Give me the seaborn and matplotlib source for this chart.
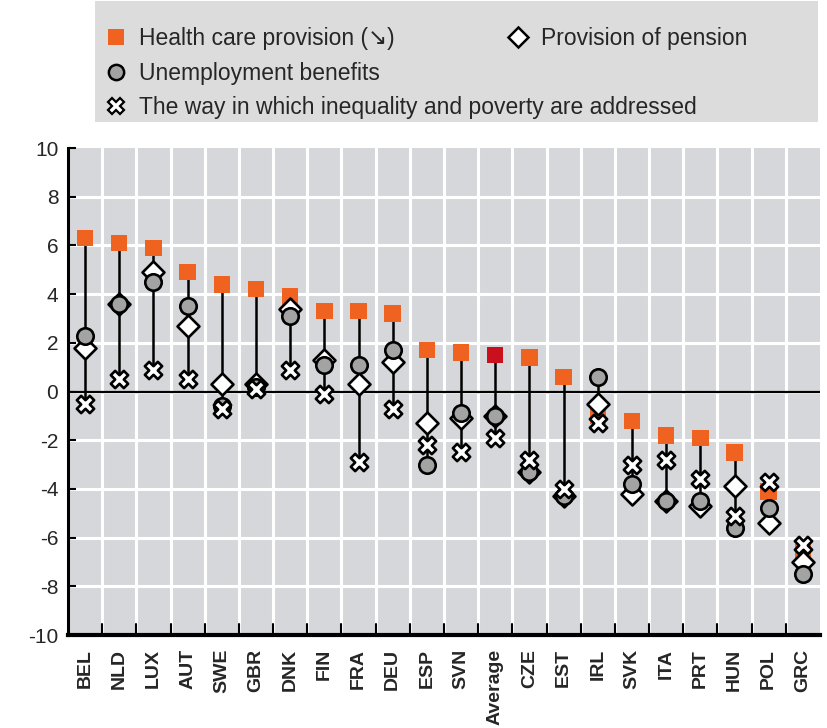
import numpy as np
import pandas as pd
import matplotlib
matplotlib.use("Agg")
import matplotlib.pyplot as plt
from matplotlib.lines import Line2D
from matplotlib.patches import Rectangle
import seaborn as sns

countries = ["BEL", "NLD", "LUX", "AUT", "SWE", "GBR", "DNK", "FIN", "FRA", "DEU", "ESP",
             "SVN", "Average", "CZE", "EST", "IRL", "SVK", "ITA", "PRT", "HUN", "POL", "GRC"]
health = [6.3, 6.1, 5.9, 4.9, 4.4, 4.2, 3.9, 3.3, 3.3, 3.2, 1.7,
          1.6, 1.5, 1.4, 0.6, -1.0, -1.2, -1.8, -1.9, -2.5, -4.1, -6.6]
pension = [1.8, 3.6, 4.9, 2.7, 0.3, 0.3, 3.4, 1.3, 0.3, 1.2, -1.3,
           -1.1, -1.0, -3.3, -4.3, -0.5, -4.2, -4.5, -4.7, -3.9, -5.4, -7.0]
unemployment = [2.3, 3.6, 4.5, 3.5, -0.6, 0.2, 3.1, 1.1, 1.1, 1.7, -3.0,
                -0.9, -1.0, -3.3, -4.3, 0.6, -3.8, -4.5, -4.5, -5.6, -4.8, -7.5]
inequality = [-0.5, 0.5, 0.9, 0.5, -0.7, 0.1, 0.9, -0.1, -2.9, -0.7, -2.2,
              -2.5, -1.9, -2.8, -4.0, -1.3, -3.0, -2.8, -3.6, -5.1, -3.7, -6.3]
yticks = [-10, -8, -6, -4, -2, 0, 2, 4, 6, 8, 10]

lab_health = "Health care provision (\u2198)"
lab_pension = "Provision of pension"
lab_unemp = "Unemployment benefits"
lab_ineq = "The way in which inequality and poverty are addressed"

df = pd.DataFrame({"country": countries, "health": health, "pension": pension,
                   "unemployment": unemployment, "inequality": inequality})
df["lo"] = df[["health", "pension", "unemployment", "inequality"]].min(axis=1)
df["hi"] = df[["health", "pension", "unemployment", "inequality"]].max(axis=1)

sns.set_theme(style="white")
fam = ["Liberation Sans", "DejaVu Sans"]
plt.rcParams["font.family"] = fam

ORANGE = "#f0621f"
RED = "#c8101e"
GREY = "#a3a3a3"
BG = "#d5d7da"

fig = plt.figure(figsize=(8.28, 7.28), dpi=100)
ax = fig.add_axes([0.0821, 0.1277, 0.9082, 0.669])
ax.set_facecolor(BG)

x = np.arange(len(countries))
# connecting lines
ax.vlines(x, df["lo"], df["hi"], color="black", lw=1.8, zorder=2)
ax.axhline(0, color="black", lw=1.6, zorder=1.5)

hcol = [RED if c == "Average" else ORANGE for c in countries]
sns.scatterplot(data=df, x="country", y="health", marker="s", s=140, color=ORANGE,
                edgecolor="none", linewidth=0, ax=ax, zorder=3)
ax.collections[-1].set_facecolor(hcol)
sns.scatterplot(data=df, x="country", y="pension", marker="D", s=125, color="white",
                edgecolor="black", linewidth=1.9, ax=ax, zorder=4)
sns.scatterplot(data=df, x="country", y="unemployment", marker="o", s=140, color=GREY,
                edgecolor="black", linewidth=1.9, ax=ax, zorder=5)
sns.scatterplot(data=df, x="country", y="inequality", marker="X", s=155, color="white",
                edgecolor="black", linewidth=1.9, ax=ax, zorder=6)

ax.set_xlim(-0.5, len(countries) - 0.5)
ax.set_ylim(-10, 10)
ax.set_yticks(yticks)
ax.set_yticklabels([str(v) for v in yticks], fontsize=15)
ax.set_xticks(x)
ax.set_xticklabels(countries, rotation=90, fontsize=14, fontweight="bold")
ax.tick_params(axis="x", length=0, pad=10)
ax.tick_params(axis="y", direction="in", length=6, width=1.5, color="black", pad=7, left=True)
ax.set_xlabel("")
ax.set_ylabel("")

# grid
for gx in np.arange(0.5, len(countries) - 0.5, 1.0):
    ax.axvline(gx, color="white", lw=2.2, zorder=0.5)
    ax.plot([gx, gx], [-10, -9.55], color="black", lw=1.5, zorder=7, clip_on=False)
for gy in yticks[1:-1]:
    ax.axhline(gy, color="white", lw=2.2, zorder=0.4)

for s in ["top", "right"]:
    ax.spines[s].set_visible(False)
ax.spines["left"].set_color("black")
ax.spines["left"].set_linewidth(2.2)
ax.spines["bottom"].set_color("black")
ax.spines["bottom"].set_linewidth(3)

# legend box
fig.patches.append(Rectangle((95 / 828, 1 - 122 / 728), (818 - 95) / 828, 121 / 728,
                             transform=fig.transFigure, facecolor="#dcdcdc", edgecolor="none", zorder=0))
h_health = Line2D([], [], marker="s", ls="none", color=ORANGE, markersize=11, markeredgewidth=0)
h_pen = Line2D([], [], marker="D", ls="none", markerfacecolor="white", markeredgecolor="black",
               markersize=10, markeredgewidth=1.8)
h_un = Line2D([], [], marker="o", ls="none", markerfacecolor=GREY, markeredgecolor="black",
              markersize=11, markeredgewidth=1.8)
h_in = Line2D([], [], marker="X", ls="none", markerfacecolor="white", markeredgecolor="black",
              markersize=12, markeredgewidth=1.6)
leg1 = fig.legend([h_health, h_un, h_in], [lab_health, lab_unemp, lab_ineq],
                  loc="upper left", bbox_to_anchor=(93 / 828, 1 - 16 / 728), frameon=False,
                  prop={"family": fam, "size": 16.5}, handlelength=1.0, handletextpad=0.5,
                  labelspacing=0.5, borderpad=0)
leg2 = fig.legend([h_pen], [lab_pension], loc="upper left",
                  bbox_to_anchor=(495 / 828, 1 - 16 / 728), frameon=False,
                  prop={"family": fam, "size": 16.5}, handlelength=1.0, handletextpad=0.5,
                  borderpad=0)

fig.savefig("out.png", dpi=100)
